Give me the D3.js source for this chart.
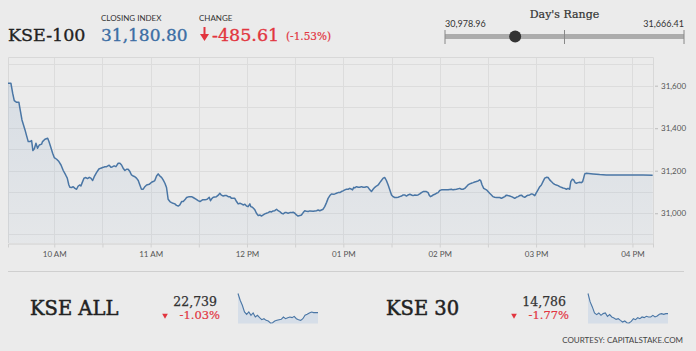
<!DOCTYPE html>
<html>
<head>
<meta charset="utf-8">
<script src="https://cdn.jsdelivr.net/npm/d3@7"></script>
<style>
  html, body { margin: 0; padding: 0; background: #ebebeb; }
  svg { display: block; }
</style>
</head>
<body>
<div id="chart"></div>
<script>
// KSE-100 intraday: [minutes after 09:00, index value]
const kse100 = [
  [31.2,31612],[33.0,31612],[34.1,31565],[35.1,31530],[36.6,31522],[38.0,31522],[38.6,31494],[39.9,31439],
  [41.8,31392],[42.8,31364],[43.8,31337],[44.9,31337],[45.9,31342],[46.7,31295],[47.6,31303],[48.6,31329],
  [49.6,31306],[50.7,31321],[52.1,31325],[52.7,31337],[54.2,31348],[55.9,31353],[56.7,31337],[57.7,31314],
  [59.0,31282],[60.0,31262],[61.5,31254],[62.9,31243],[64.2,31227],[65.6,31201],[67.1,31180],[68.1,31165],
  [69.1,31133],[69.8,31122],[70.8,31121],[71.8,31125],[72.9,31117],[73.9,31113],[74.9,31128],[76.0,31133],
  [76.6,31128],[77.4,31144],[78.5,31165],[79.7,31168],[80.7,31163],[81.8,31169],[82.8,31165],[83.9,31154],
  [84.9,31172],[86.3,31191],[87.8,31208],[89.0,31212],[90.5,31216],[91.5,31219],[92.6,31219],[94.2,31226],
  [95.3,31216],[96.3,31219],[97.3,31223],[98.4,31219],[99.8,31235],[100.9,31235],[101.9,31227],[102.9,31212],
  [104.0,31201],[105.0,31207],[106.0,31207],[107.1,31196],[108.1,31180],[109.2,31175],[110.2,31172],[111.2,31165],
  [112.3,31154],[113.3,31133],[114.3,31113],[115.4,31113],[116.4,31125],[117.5,31133],[119.1,31136],[120.6,31146],
  [121.6,31149],[122.6,31154],[123.7,31175],[124.7,31185],[125.8,31175],[126.8,31169],[127.8,31157],[128.9,31141],
  [129.9,31121],[130.9,31066],[132.0,31055],[133.0,31050],[134.0,31047],[135.1,31044],[136.1,31037],[137.2,31034],
  [138.2,31039],[139.3,31055],[140.3,31055],[141.3,31063],[142.4,31074],[144.0,31078],[145.5,31078],[146.5,31074],
  [148.2,31066],[149.6,31059],[150.7,31055],[152.3,31063],[153.8,31063],[155.2,31066],[156.5,31075],[157.3,31059],
  [158.1,31069],[159.0,31075],[161.0,31078],[162.1,31085],[163.1,31094],[164.1,31085],[165.2,31081],[166.2,31083],
  [167.3,31083],[168.3,31078],[169.3,31078],[170.4,31070],[172.4,31070],[173.5,31055],[174.5,31044],[175.6,31047],
  [176.6,31044],[177.6,31039],[178.7,31042],[179.7,31034],[180.7,31031],[181.8,31044],[182.4,31031],[183.4,31028],
  [184.9,31016],[185.9,31000],[187.0,30989],[188.0,30992],[189.0,30987],[190.1,30992],[191.1,30997],[192.1,31000],
  [193.2,31003],[194.2,31008],[195.3,31006],[196.3,31011],[197.3,31012],[198.4,31019],[199.4,31012],[200.4,31008],
  [201.5,31000],[202.5,30997],[203.6,31003],[204.6,31003],[205.6,31000],[206.7,31003],[207.7,31003],[208.7,31005],
  [209.8,31000],[210.8,30992],[211.8,30987],[212.9,30989],[213.9,30992],[215.0,31003],[216.0,31012],[217.0,31009],
  [218.1,31008],[219.1,31011],[221.2,31009],[223.3,31012],[224.3,31015],[225.3,31012],[227.4,31019],[228.4,31031],
  [229.5,31050],[230.5,31070],[231.6,31083],[232.6,31091],[233.6,31089],[234.7,31091],[235.7,31094],[236.7,31097],
  [237.8,31097],[238.8,31102],[239.8,31105],[240.9,31110],[241.9,31113],[243.0,31113],[244.0,31117],[245.1,31113],
  [245.7,31110],[246.5,31122],[247.1,31119],[248.2,31125],[249.2,31122],[250.2,31122],[251.3,31125],[252.3,31122],
  [253.4,31122],[254.4,31125],[255.4,31122],[256.5,31110],[257.5,31102],[258.5,31113],[259.6,31122],[260.6,31128],
  [261.7,31133],[262.7,31144],[263.7,31154],[264.8,31165],[265.8,31168],[266.8,31154],[267.9,31133],[268.9,31110],
  [270.0,31086],[271.0,31078],[272.0,31074],[273.1,31074],[274.1,31075],[275.1,31078],[276.2,31081],[277.2,31086],
  [278.2,31086],[279.3,31081],[280.3,31086],[281.4,31089],[282.4,31086],[283.4,31083],[284.5,31086],[285.5,31085],
  [286.5,31086],[287.6,31091],[288.6,31097],[289.7,31102],[290.7,31102],[291.7,31102],[292.8,31097],[293.4,31086],
  [294.2,31078],[295.0,31081],[295.9,31086],[296.9,31089],[297.9,31094],[299.0,31097],[300.0,31107],[301.1,31110],
  [303.1,31110],[305.2,31110],[307.3,31113],[308.3,31110],[310.4,31113],[312.5,31117],[313.5,31113],[314.5,31113],
  [315.6,31117],[316.6,31125],[317.6,31133],[318.7,31138],[319.7,31141],[320.8,31144],[321.8,31147],[322.8,31149],
  [323.9,31152],[324.9,31157],[325.5,31154],[326.4,31133],[327.4,31117],[329.1,31110],[330.1,31102],[331.1,31094],
  [332.2,31086],[333.2,31078],[334.2,31075],[335.3,31074],[337.4,31074],[338.4,31070],[339.4,31074],[340.5,31078],
  [341.5,31085],[342.5,31083],[343.6,31081],[344.6,31078],[345.6,31075],[346.7,31070],[347.7,31075],[348.8,31078],
  [349.8,31083],[350.9,31085],[351.9,31078],[352.9,31075],[354.0,31081],[355.0,31085],[356.0,31086],[357.1,31091],
  [358.1,31089],[359.2,31083],[360.2,31097],[361.2,31110],[362.3,31125],[363.3,31133],[364.3,31149],[365.4,31165],
  [366.4,31169],[367.5,31168],[368.5,31157],[369.5,31149],[370.6,31141],[371.6,31136],[372.6,31133],[373.7,31130],
  [374.7,31125],[375.7,31122],[376.8,31119],[377.8,31117],[378.9,31113],[379.9,31117],[380.9,31113],[381.6,31149],
  [382.6,31160],[383.4,31157],[384.3,31144],[385.1,31141],[386.1,31144],[387.2,31146],[388.2,31144],[389.0,31149],
  [389.6,31165],[390.3,31185],[391.3,31188],[395.5,31185],[399.6,31182],[403.7,31180],[410.0,31180],[418.3,31180],
  [426.6,31180],[432.6,31179]
];

const yTicks = [31000, 31200, 31400, 31600];
const dayRange = [30978.96, 31666.41];
const closing = 31180.80;

const kseAllSpark = [22975,22892,22830,22747,22718,22747,22706,22735,22685,22706,22677,22652,22664,22644,22635,
  22611,22615,22635,22644,22652,22656,22685,22664,22677,22685,22677,22693,22664,22652,22644,22664,22706,22718,
  22735,22747,22739,22739,22739];
const kse30Spark = [15045,14937,14872,14794,14773,14794,14764,14786,14794,14751,14773,14743,14730,14712,14721,
  14699,14678,14691,14669,14665,14686,14721,14708,14734,14721,14743,14734,14751,14743,14743,14764,14743,14756,
  14777,14786,14777,14786,14786];

const width = 696, height = 351;
const serif = "'DejaVu Serif', serif", sans = "Lato, sans-serif";
const red = "#e2353f", blue = "#3c6ea4", lineCol = "#4a76a5", grid = "#dcdcdc";

const svg = d3.select("#chart")
  .append("svg")
  .attr("width", width)
  .attr("height", height);

svg.append("rect").attr("width", width).attr("height", height).attr("fill", "#ebebeb");

// serif text helper, slightly heavier strokes like the original webfont
function serifText(xp, yp, size, color, str, anchor) {
  return svg.append("text").attr("x", xp).attr("y", yp)
    .attr("text-anchor", anchor || "start")
    .style("font-family", serif).style("font-size", size + "px")
    .attr("fill", color).attr("stroke", color).attr("stroke-width", 0.35)
    .text(str);
}

// ---- main chart ----
const base = new Date(2017, 0, 2, 9, 0);
const toDate = m => new Date(base.getTime() + m * 60000);

const x = d3.scaleTime().domain([toDate(31.2), toDate(432.8)]).range([8, 653]);
const y = d3.scaleLinear().domain([30860, 31735]).range([243, 57]);

const halfHours = x.ticks(d3.timeMinute.every(30));

svg.append("g")
  .selectAll("line")
  .data(d3.range(30900, 31701, 100))
  .join("line")
  .attr("x1", 8).attr("x2", 653)
  .attr("y1", d => Math.round(y(d)) + 0.5).attr("y2", d => Math.round(y(d)) + 0.5)
  .attr("stroke", grid);

svg.append("g")
  .selectAll("line")
  .data(halfHours)
  .join("line")
  .attr("x1", d => Math.round(x(d)) + 0.5).attr("x2", d => Math.round(x(d)) + 0.5)
  .attr("y1", 57).attr("y2", 243)
  .attr("stroke", grid);

// frame
svg.append("path")
  .attr("d", "M8.5,243V57.5H653.5V247")
  .attr("fill", "none")
  .attr("stroke", "#d8d8d8");

const grad = svg.append("defs").append("linearGradient")
  .attr("id", "fillGrad").attr("x1", 0).attr("y1", 0).attr("x2", 0).attr("y2", 1);
grad.append("stop").attr("offset", "0%").attr("stop-color", "#9db5d0").attr("stop-opacity", 0.25);
grad.append("stop").attr("offset", "100%").attr("stop-color", "#9db5d0").attr("stop-opacity", 0.08);

const area = d3.area()
  .x(d => x(toDate(d[0])))
  .y0(243)
  .y1(d => y(d[1]));

const line = d3.line()
  .x(d => x(toDate(d[0])))
  .y(d => y(d[1]));

svg.append("path").datum(kse100).attr("d", area).attr("fill", "url(#fillGrad)");
svg.append("path").datum(kse100).attr("d", line)
  .attr("fill", "none").attr("stroke", lineCol).attr("stroke-width", 1.5)
  .attr("stroke-linejoin", "round");

// x axis
const xAxis = svg.append("g")
  .attr("transform", "translate(0,243.5)")
  .call(d3.axisBottom(x)
    .tickValues(halfHours)
    .tickSize(4)
    .tickPadding(4)
    .tickFormat(d => d.getMinutes() === 0 ? d3.timeFormat("%I %p")(d) : ""));
xAxis.select(".domain").attr("stroke", "#d0d0d0");
xAxis.selectAll(".tick line").attr("stroke", "#d0d0d0");
xAxis.selectAll("text").attr("fill", "#555").style("font-family", sans).style("font-size", "8px");

// y axis (right)
const yAxis = svg.append("g")
  .attr("transform", "translate(655,0)")
  .call(d3.axisRight(y).tickValues(yTicks).tickFormat(d3.format(",")).tickSize(3).tickPadding(3));
yAxis.select(".domain").remove();
yAxis.selectAll(".tick line").attr("stroke", "#bbb");
yAxis.selectAll("text").attr("fill", "#555").style("font-family", sans).style("font-size", "8px");

// ---- header ----
serifText(8, 40.5, 17.5, "#222", "KSE-100");

svg.append("text").attr("x", 101).attr("y", 21)
  .style("font-family", sans).style("font-size", "8px").attr("fill", "#333")
  .text("CLOSING INDEX");
serifText(101, 40.5, 17, blue, d3.format(",.2f")(closing));

svg.append("text").attr("x", 199).attr("y", 21)
  .style("font-family", sans).style("font-size", "8px").attr("fill", "#333")
  .text("CHANGE");
svg.append("path")
  .attr("d", "M204.5,27V35")
  .attr("stroke", red).attr("stroke-width", 2);
svg.append("path")
  .attr("d", "M200,34H209L204.5,41Z")
  .attr("fill", red);
serifText(212, 40.5, 17.5, red, "-485.61");
serifText(286, 40, 10.5, red, "(-1.53%)").attr("stroke-width", 0.2);

// day's range
const dr = d3.scaleLinear().domain(dayRange).range([445, 684]);
serifText((dr.range()[0] + dr.range()[1]) / 2, 17.5, 11, "#333", "Day's Range", "middle").attr("stroke-width", 0.2);
svg.append("text").attr("x", dr(dayRange[0])).attr("y", 26.5)
  .style("font-family", sans).style("font-size", "9px").attr("fill", "#333")
  .text(d3.format(",.2f")(dayRange[0]));
svg.append("text").attr("x", dr(dayRange[1])).attr("y", 26.5).attr("text-anchor", "end")
  .style("font-family", sans).style("font-size", "9px").attr("fill", "#333")
  .text(d3.format(",.2f")(dayRange[1]));
svg.append("line")
  .attr("x1", dr(dayRange[0])).attr("x2", dr(dayRange[1]))
  .attr("y1", 36.5).attr("y2", 36.5)
  .attr("stroke", "#acacac").attr("stroke-width", 5);
svg.append("g")
  .selectAll("line")
  .data([dayRange[0], (dayRange[0] + dayRange[1]) / 2, dayRange[1]])
  .join("line")
  .attr("x1", d => dr(d)).attr("x2", d => dr(d))
  .attr("y1", 30).attr("y2", 44)
  .attr("stroke", "#888").attr("stroke-width", 1);
svg.append("circle").attr("cx", dr(closing)).attr("cy", 36.5).attr("r", 6).attr("fill", "#333");

// ---- bottom panels ----
svg.append("line").attr("x1", 8).attr("x2", 684).attr("y1", 271.5).attr("y2", 271.5)
  .attr("stroke", "#cfcfcf");

function panel(name, nameX, value, pct, valueEnd, sparkX, data) {
  serifText(nameX, 315, 19.5, "#222", name).attr("stroke-width", 0.5);
  serifText(valueEnd, 305.5, 12.5, "#333", d3.format(",")(value), "end").attr("stroke-width", 0.25);
  serifText(valueEnd + 3, 319, 11.5, red, pct.toFixed(2) + "%", "end").attr("stroke-width", 0.2);
  svg.append("path")
    .attr("d", d3.symbol(d3.symbolTriangle, 14))
    .attr("transform", `translate(${valueEnd - 52},315.5) rotate(180)`)
    .attr("fill", red);

  const sx = d3.scaleLinear().domain([0, data.length - 1]).range([sparkX, sparkX + 80]);
  const sy = d3.scaleLinear().domain(d3.extent(data)).range([323, 293.5]);
  svg.append("path").datum(data)
    .attr("d", d3.area().x((d, i) => sx(i)).y0(323.5).y1(d => sy(d)))
    .attr("fill", "#d6dee8");
  svg.append("path").datum(data)
    .attr("d", d3.line().x((d, i) => sx(i)).y(d => sy(d)))
    .attr("fill", "none").attr("stroke", lineCol).attr("stroke-width", 1.1);
}

panel("KSE ALL", 30, 22739, -1.03, 217, 238, kseAllSpark);
panel("KSE 30", 386, 14786, -1.77, 566, 588, kse30Spark);

svg.append("text").attr("x", 683).attr("y", 342.5).attr("text-anchor", "end")
  .style("font-family", sans).style("font-size", "8px").attr("fill", "#444")
  .text("COURTESY: CAPITALSTAKE.COM");
</script>
</body>
</html>
